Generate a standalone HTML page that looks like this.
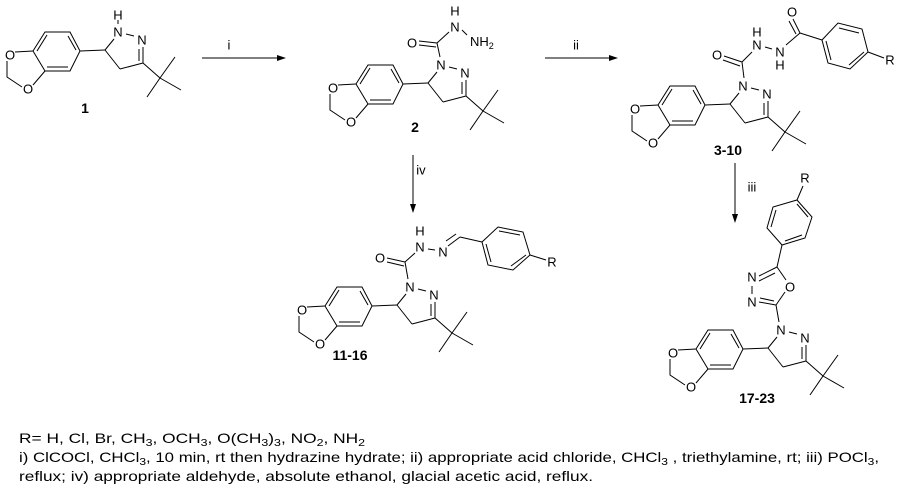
<!DOCTYPE html>
<html><head><meta charset="utf-8"><style>
html,body{margin:0;padding:0;background:#fff;}
svg{display:block;}
text{font-family:"Liberation Sans",Arial,sans-serif;fill:#000;}
.l{font-size:13px;text-anchor:middle;dominant-baseline:central;}
.b{font-size:14px;font-weight:bold;text-anchor:middle;}
line,polyline{stroke:#000;stroke-width:1;fill:none;}
</style></head><body>
<svg width="899" height="495" viewBox="0 0 899 495" xmlns="http://www.w3.org/2000/svg">
<defs>
<g id="frag">
<polygon points="45,32 70,32 80,51 70,71 45,71 33,51" fill="none" stroke="#000"/>
<line x1="37" y1="51" x2="47" y2="35"/>
<line x1="68" y1="36" x2="76" y2="50"/>
<line x1="47" y1="67" x2="68" y2="67"/>
<text class="l" x="10" y="55">O</text>
<text class="l" x="28" y="89">O</text>
<line x1="15" y1="52" x2="33" y2="51"/>
<line x1="33" y1="85" x2="45" y2="71"/>
<polyline points="7,61 7,77 22,87"/>
<line x1="80" y1="51" x2="105" y2="50"/>
<line x1="105" y1="50" x2="114" y2="39"/>
<text class="l" x="118" y="32">N</text>
<line x1="126" y1="34" x2="134" y2="36"/>
<text class="l" x="142" y="40">N</text>
<line x1="143" y1="47" x2="143" y2="63"/>
<line x1="139" y1="49" x2="139" y2="61"/>
<line x1="143" y1="63" x2="120" y2="69"/>
<line x1="120" y1="69" x2="105" y2="50"/>
<line x1="143" y1="63" x2="160" y2="78"/>
<line x1="160" y1="78" x2="175" y2="57"/>
<line x1="160" y1="78" x2="181" y2="90"/>
<line x1="160" y1="78" x2="147" y2="97"/>
</g>
</defs>

<use href="#frag"/>
<text class="l" x="118" y="15">H</text>
<line x1="118" y1="20" x2="118" y2="24"/>
<text class="b" x="85" y="113">1</text>

<line x1="202" y1="58" x2="280" y2="58"/>
<polygon points="286,58 277,55 277,61" fill="#000"/>
<text class="l" x="229" y="45">i</text>

<use href="#frag" transform="translate(323,33)"/>
<text class="l" x="412" y="43">O</text>
<line x1="419" y1="41" x2="437" y2="43"/>
<line x1="419" y1="45" x2="436" y2="47"/>
<line x1="437" y1="43" x2="440" y2="57"/>
<line x1="437" y1="43" x2="449" y2="32"/>
<text class="l" x="455" y="27">N</text>
<text class="l" x="455" y="11">H</text>
<line x1="462" y1="30" x2="467" y2="35"/>
<text x="470" y="46" style="font-size:13px">NH<tspan font-size="9" dy="3">2</tspan></text>
<text class="b" x="415" y="132">2</text>

<line x1="545" y1="58" x2="612" y2="58"/>
<polygon points="618,58 609,55 609,61" fill="#000"/>
<text class="l" x="576" y="45">ii</text>

<use href="#frag" transform="translate(625,54)"/>
<text class="l" x="717" y="55">O</text>
<line x1="724" y1="56" x2="742" y2="62"/>
<line x1="723" y1="60" x2="740" y2="66"/>
<line x1="742" y1="62" x2="744" y2="78"/>
<line x1="742" y1="62" x2="752" y2="52"/>
<text class="l" x="757" y="45">N</text>
<text class="l" x="757" y="32">H</text>
<line x1="765" y1="47" x2="772" y2="49"/>
<text class="l" x="780" y="52">N</text>
<text class="l" x="780" y="65">H</text>
<line x1="786" y1="45" x2="800" y2="33"/>
<line x1="800" y1="33" x2="793" y2="19"/>
<line x1="796" y1="34" x2="789" y2="21"/>
<text class="l" x="792" y="12">O</text>
<line x1="800" y1="33" x2="822" y2="40"/>
<polygon points="822,40 838,23 862,29 868,52 850,69 828,63" fill="none" stroke="#000"/>
<line x1="839" y1="28" x2="859" y2="33"/>
<line x1="864" y1="52" x2="849" y2="65"/>
<line x1="826" y1="41" x2="831" y2="60"/>
<line x1="868" y1="52" x2="884" y2="58"/>
<text class="l" x="890" y="60">R</text>
<text class="b" x="728" y="155">3-10</text>

<line x1="735" y1="163" x2="735" y2="216"/>
<polygon points="735,223 732,214 738,214" fill="#000"/>
<text class="l" x="752" y="187">iii</text>

<line x1="413" y1="155" x2="413" y2="206"/>
<polygon points="413,213 410,204 416,204" fill="#000"/>
<text class="l" x="421" y="170">iv</text>

<use href="#frag" transform="translate(292,255)"/>
<text class="l" x="380" y="258">O</text>
<line x1="387" y1="258" x2="405" y2="262"/>
<line x1="387" y1="262" x2="404" y2="266"/>
<line x1="405" y1="262" x2="408" y2="279"/>
<line x1="405" y1="262" x2="415" y2="253"/>
<text class="l" x="420" y="247">N</text>
<text class="l" x="420" y="231">H</text>
<line x1="428" y1="249" x2="435" y2="250"/>
<text class="l" x="443" y="252">N</text>
<line x1="448" y1="246" x2="460" y2="237"/>
<line x1="446" y1="241" x2="456" y2="234"/>
<line x1="460" y1="237" x2="482" y2="242"/>
<polygon points="482,242 498,227 523,232 530,255 513,270 488,265" fill="none" stroke="#000"/>
<line x1="499" y1="231" x2="520" y2="235"/>
<line x1="526" y1="255" x2="511" y2="266"/>
<line x1="486" y1="244" x2="491" y2="262"/>
<line x1="530" y1="255" x2="546" y2="260"/>
<text class="l" x="552" y="262">R</text>
<text class="b" x="350" y="360">11-16</text>

<use href="#frag" transform="translate(663,298)"/>
<line x1="779" y1="322" x2="776" y2="305"/>
<line x1="776" y1="305" x2="785" y2="292"/>
<line x1="776" y1="305" x2="759" y2="302"/>
<line x1="774" y1="301" x2="760" y2="298"/>
<text class="l" x="752" y="302">N</text>
<line x1="752" y1="286" x2="752" y2="294"/>
<text class="l" x="752" y="277">N</text>
<line x1="759" y1="276" x2="777" y2="267"/>
<line x1="759" y1="281" x2="775" y2="273"/>
<text class="l" x="790" y="287">O</text>
<line x1="777" y1="267" x2="786" y2="280"/>
<line x1="777" y1="267" x2="782" y2="245"/>
<polygon points="782,245 767,228 773,207 797,200 812,217 805,238" fill="none" stroke="#000"/>
<line x1="771" y1="227" x2="776" y2="210"/>
<line x1="797" y1="204" x2="808" y2="217"/>
<line x1="785" y1="241" x2="802" y2="235"/>
<line x1="797" y1="200" x2="803" y2="186"/>
<text class="l" x="805" y="178">R</text>
<text class="b" x="757" y="403">17-23</text>

<text x="19" y="443" style="font-size:14px" textLength="346" lengthAdjust="spacingAndGlyphs">R= H, Cl, Br, CH<tspan font-size="10" dy="3">3</tspan><tspan dy="-3">, OCH</tspan><tspan font-size="10" dy="3">3</tspan><tspan dy="-3">, O(CH</tspan><tspan font-size="10" dy="3">3</tspan><tspan dy="-3">)</tspan><tspan font-size="10" dy="3">3</tspan><tspan dy="-3">, NO</tspan><tspan font-size="10" dy="3">2</tspan><tspan dy="-3">, NH</tspan><tspan font-size="10" dy="3">2</tspan></text>
<text x="19" y="462" style="font-size:14px" textLength="860" lengthAdjust="spacingAndGlyphs">i) ClCOCl, CHCl<tspan font-size="10" dy="3">3</tspan><tspan dy="-3">, 10 min, rt then hydrazine hydrate; ii) appropriate acid chloride, CHCl</tspan><tspan font-size="10" dy="3">3</tspan><tspan dy="-3"> , triethylamine, rt; iii)  POCl</tspan><tspan font-size="10" dy="3">3</tspan><tspan dy="-3">,</tspan></text>
<text x="19" y="481" style="font-size:14px" textLength="574" lengthAdjust="spacingAndGlyphs">reflux; iv) appropriate aldehyde, absolute ethanol, glacial acetic acid, reflux.</text>
</svg>
</body></html>
